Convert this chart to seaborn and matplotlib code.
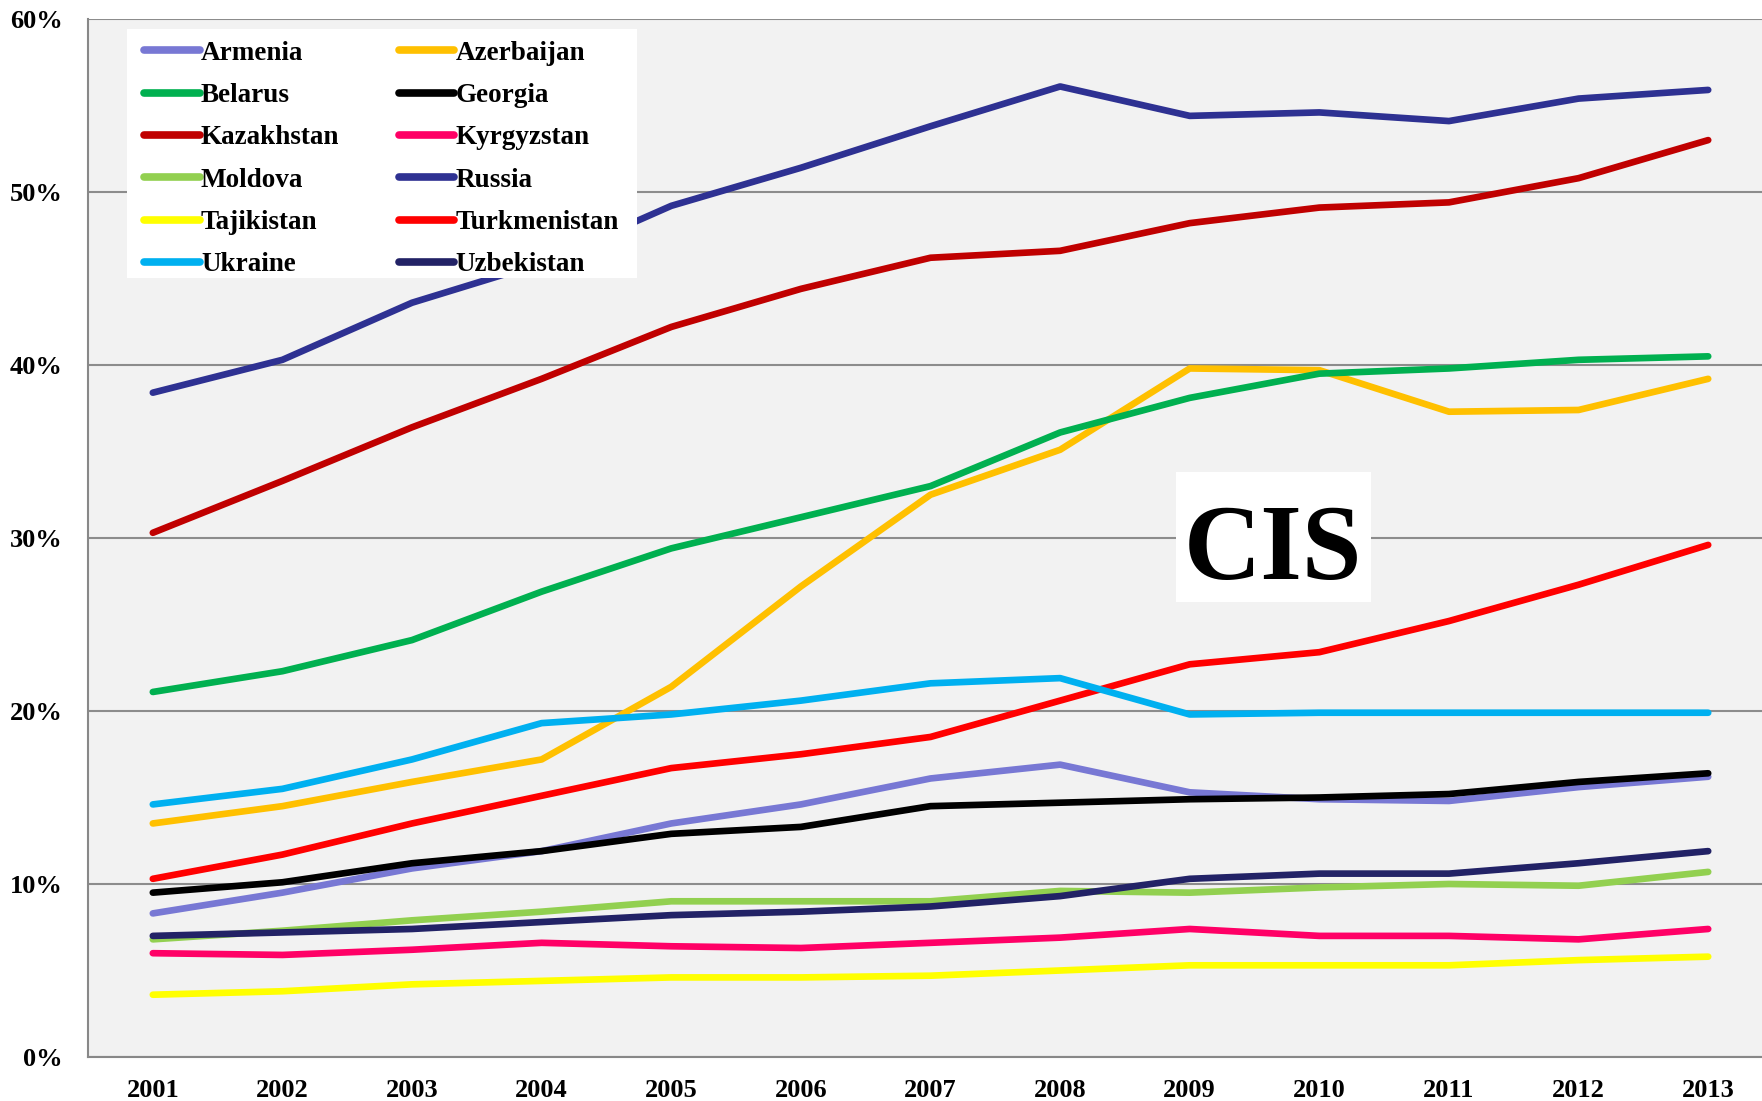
import numpy as np
import pandas as pd
import matplotlib
matplotlib.use("Agg")
import matplotlib.pyplot as plt
from matplotlib.patches import Rectangle
import seaborn as sns

years = ["2001", "2002", "2003", "2004", "2005", "2006", "2007",
         "2008", "2009", "2010", "2011", "2012", "2013"]

armenia      = [8.3, 9.5, 10.9, 11.9, 13.5, 14.6, 16.1, 16.9, 15.3, 14.9, 14.8, 15.6, 16.2]
azerbaijan   = [13.5, 14.5, 15.9, 17.2, 21.4, 27.2, 32.5, 35.1, 39.8, 39.7, 37.3, 37.4, 39.2]
belarus      = [21.1, 22.3, 24.1, 26.9, 29.4, 31.2, 33.0, 36.1, 38.1, 39.5, 39.8, 40.3, 40.5]
georgia      = [9.5, 10.1, 11.2, 11.9, 12.9, 13.3, 14.5, 14.7, 14.9, 15.0, 15.2, 15.9, 16.4]
kazakhstan   = [30.3, 33.3, 36.4, 39.2, 42.2, 44.4, 46.2, 46.6, 48.2, 49.1, 49.4, 50.8, 53.0]
kyrgyzstan   = [6.0, 5.9, 6.2, 6.6, 6.4, 6.3, 6.6, 6.9, 7.4, 7.0, 7.0, 6.8, 7.4]
moldova      = [6.8, 7.3, 7.9, 8.4, 9.0, 9.0, 9.0, 9.6, 9.5, 9.8, 10.0, 9.9, 10.7]
russia       = [38.4, 40.3, 43.6, 45.9, 49.2, 51.4, 53.8, 56.1, 54.4, 54.6, 54.1, 55.4, 55.9]
tajikistan   = [3.6, 3.8, 4.2, 4.4, 4.6, 4.6, 4.7, 5.0, 5.3, 5.3, 5.3, 5.6, 5.8]
turkmenistan = [10.3, 11.7, 13.5, 15.1, 16.7, 17.5, 18.5, 20.6, 22.7, 23.4, 25.2, 27.3, 29.6]
ukraine      = [14.6, 15.5, 17.2, 19.3, 19.8, 20.6, 21.6, 21.9, 19.8, 19.9, 19.9, 19.9, 19.9]
uzbekistan   = [7.0, 7.2, 7.4, 7.8, 8.2, 8.4, 8.7, 9.3, 10.3, 10.6, 10.6, 11.2, 11.9]

countries = ["Armenia", "Azerbaijan", "Belarus", "Georgia", "Kazakhstan", "Kyrgyzstan",
             "Moldova", "Russia", "Tajikistan", "Turkmenistan", "Ukraine", "Uzbekistan"]
series = [armenia, azerbaijan, belarus, georgia, kazakhstan, kyrgyzstan,
          moldova, russia, tajikistan, turkmenistan, ukraine, uzbekistan]
colors = ["#7878D4", "#FFC000", "#00B050", "#000000", "#C00000", "#FF0066",
          "#92D050", "#2E3192", "#FFFF00", "#FF0000", "#00B0F0", "#222266"]

rows = []
for c, vals in zip(countries, series):
    for i, v in enumerate(vals):
        rows.append({"country": c, "idx": i, "value": v})
df = pd.DataFrame(rows)

sns.set_style("white")
plt.rcParams["font.family"] = ["Liberation Serif", "DejaVu Serif"]
plt.rcParams["font.weight"] = "bold"
plt.rcParams["text.color"] = "black"
plt.rcParams["xtick.color"] = "black"
plt.rcParams["ytick.color"] = "black"

fig = plt.figure(figsize=(17.62, 11.01), dpi=100)
ax = fig.add_axes([88 / 1762, 1 - 1057 / 1101, 1674 / 1762, 1038 / 1101])
ax.set_facecolor("#F2F2F2")

sns.lineplot(data=df, x="idx", y="value", hue="country", hue_order=countries,
             palette=dict(zip(countries, colors)), linewidth=4.8, ax=ax,
             legend=True, solid_capstyle="round")

ax.set_xlim(-0.494, 12.415)
ax.set_ylim(0, 60)
ax.set_yticks(np.arange(0, 61, 10))
ax.set_yticklabels([f"{v}%" for v in range(0, 61, 10)])
ax.set_xticks(range(len(years)))
ax.set_xticklabels(years)
ax.set_xticks(np.arange(-0.5, 12.0, 1.0), minor=True)
ax.tick_params(axis="x", which="major", length=0, pad=16, labelsize=19, labelcolor="black")
ax.tick_params(axis="x", which="minor", length=8, width=1.3, color="#888888", direction="out")
ax.tick_params(axis="y", which="major", length=6, width=1.3, color="#888888", pad=12,
               labelsize=19, labelcolor="black")
for lab in ax.get_xticklabels() + ax.get_yticklabels():
    lab.set_fontweight("bold")

ax.grid(axis="y", color="#8C8C8C", linewidth=1.5)
ax.set_axisbelow(True)
ax.set_xlabel("")
ax.set_ylabel("")
for s in ["top", "right"]:
    ax.spines[s].set_visible(False)
for s in ["left", "bottom"]:
    ax.spines[s].set_color("#888888")
    ax.spines[s].set_linewidth(1.5)

# white legend panel
ax.add_patch(Rectangle((0.0233, 0.7505), 0.3047, 0.2399, transform=ax.transAxes,
                       facecolor="white", edgecolor="none", zorder=4.5))

handles, labels = ax.get_legend_handles_labels()
hmap = dict(zip(labels, handles))
col1 = ["Armenia", "Belarus", "Kazakhstan", "Moldova", "Tajikistan", "Ukraine"]
col2 = ["Azerbaijan", "Georgia", "Kyrgyzstan", "Russia", "Turkmenistan", "Uzbekistan"]
order = col1 + col2
for h in handles:
    h.set_linewidth(5.5)
    h.set_solid_capstyle("round")
leg = ax.legend([hmap[k] for k in order], order, ncol=2, loc="upper left",
                bbox_to_anchor=(0.0335, 0.979), borderaxespad=0, borderpad=0,
                frameon=False,
                prop={"family": "Liberation Serif", "weight": "bold", "size": 19.5},
                handlelength=2.05, handletextpad=0.05, labelspacing=0.64,
                columnspacing=2.2)
leg.set_zorder(5)

# CIS label with white panel
ax.add_patch(Rectangle((0.650, 0.4383), 0.1165, 0.1252, transform=ax.transAxes,
                       facecolor="white", edgecolor="none", zorder=4.5))
ax.text(0.708, 0.4605, "CIS", transform=ax.transAxes, ha="center", va="baseline",
        fontsize=77, fontweight="bold", family="Liberation Serif", color="black", zorder=5)

fig.savefig("out.png", dpi=100, facecolor="white")
